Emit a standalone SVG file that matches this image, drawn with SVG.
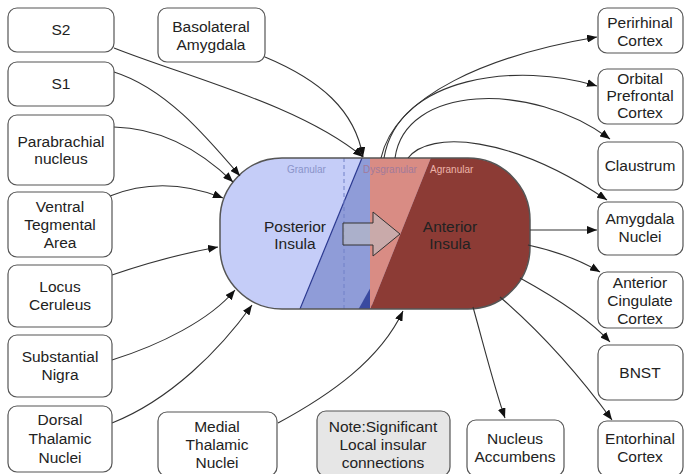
<svg xmlns="http://www.w3.org/2000/svg" width="685" height="474" viewBox="0 0 685 474">
<style>
.box{fill:#fff;stroke:#555;stroke-width:1.2}
.note{fill:#e6e6e6;stroke:#555;stroke-width:1.2}
.t{font-family:"Liberation Sans",Arial,sans-serif;font-size:15.5px;fill:#222;text-anchor:middle}
.zone{font-family:"Liberation Sans",Arial,sans-serif;font-size:10px;text-anchor:start}
.c{fill:none;stroke:#333;stroke-width:1.1;marker-end:url(#ah)}
</style>
<defs>
<marker id="ah" markerUnits="userSpaceOnUse" markerWidth="10" markerHeight="8" refX="10" refY="4" orient="auto">
<path d="M0,0 L10,4 L0,8 z" fill="#111"/>
</marker>
<clipPath id="ins"><rect x="220" y="158" width="310" height="151" rx="62" ry="62"/></clipPath>
</defs>
<rect width="685" height="474" fill="#fff"/>

<g id="insula">
<g clip-path="url(#ins)">
<rect x="215" y="150" width="330" height="170" fill="#c5cdf8"/>
<polygon points="362,158 372,158 372,310 300,310" fill="#8f9cd8"/>
<polygon points="372,285 372,310 358,310" fill="#3a4aa0"/>
<polygon points="370,150 434,150 370,310" fill="#d98c84"/>
<polygon points="434,150 545,150 545,320 370,320 370,310" fill="#8c3b35"/>
<line x1="362" y1="158" x2="300" y2="309" stroke="#2b3990" stroke-width="1.2"/>
<line x1="344" y1="158" x2="344" y2="309" stroke="#7080c8" stroke-width="1" stroke-dasharray="4,3"/>
</g>
<rect x="220" y="158" width="310" height="151" rx="62" ry="62" fill="none" stroke="#555" stroke-width="1.5"/>
<text class="zone" x="287" y="173" fill="#8a93c9">Granular</text>
<text class="zone" x="363" y="173" fill="#a27a9a">Dysgranular</text>
<text class="zone" x="430" y="173" fill="#ecb3aa">Agranular</text>
<polygon points="343,223 373,223 373,212 400,234 373,256 373,245 343,245" fill="rgba(190,190,195,0.6)" stroke="#333" stroke-width="1"/>
<text class="t" x="295" y="232">Posterior</text>
<text class="t" x="295" y="249">Insula</text>
<text class="t" x="450" y="232">Anterior</text>
<text class="t" x="450" y="249">Insula</text>
</g>

<g id="connectors">
<path class="c" d="M114,48 C190,78 300,105 363,157"/>
<path class="c" d="M265,57 C320,80 355,110 363,157"/>
<path class="c" d="M114,72 C165,88 205,135 240,176"/>
<path class="c" d="M114,127 C160,128 200,150 233,182"/>
<path class="c" d="M110,196 C150,180 190,185 223,198"/>
<path class="c" d="M112,275 C150,262 190,252 218,247"/>
<path class="c" d="M112,360 C160,345 210,320 235,290"/>
<path class="c" d="M112,423 C170,400 220,350 252,305"/>
<path class="c" d="M278,423 C330,395 380,360 403,311"/>
<path class="c" d="M381,158 C395,95 490,55 597,37"/>
<path class="c" d="M384,158 C398,75 520,62 597,86"/>
<path class="c" d="M395,158 C405,85 530,80 610,139"/>
<path class="c" d="M408,158 C430,130 510,135 607,200"/>
<path class="c" d="M530,230 L597,230"/>
<path class="c" d="M528,245 C560,252 580,260 600,272"/>
<path class="c" d="M520,278 C560,300 590,320 610,342"/>
<path class="c" d="M500,297 C550,340 590,390 612,420"/>
<path class="c" d="M473,307 C485,350 495,390 505,418"/>
</g>

<g id="s2"><rect class="box" x="8" y="8" width="106" height="44" rx="9"/><text class="t" x="61" y="35">S2</text></g>
<g id="s1"><rect class="box" x="8" y="62" width="106" height="44" rx="9"/><text class="t" x="61" y="89">S1</text></g>
<g id="parabrachial"><rect class="box" x="8" y="115" width="106" height="70" rx="9"/><text class="t" x="61" y="147">Parabrachial</text><text class="t" x="61" y="164">nucleus</text></g>
<g id="vta"><rect class="box" x="8" y="192" width="104" height="65" rx="9"/><text class="t" x="60" y="212">Ventral</text><text class="t" x="60" y="230">Tegmental</text><text class="t" x="60" y="248">Area</text></g>
<g id="locus"><rect class="box" x="8" y="265" width="104" height="62" rx="9"/><text class="t" x="60" y="292">Locus</text><text class="t" x="60" y="310">Ceruleus</text></g>
<g id="nigra"><rect class="box" x="8" y="335" width="104" height="62" rx="9"/><text class="t" x="60" y="362">Substantial</text><text class="t" x="60" y="380">Nigra</text></g>
<g id="dorsal"><rect class="box" x="8" y="406" width="104" height="66" rx="9"/><text class="t" x="60" y="425">Dorsal</text><text class="t" x="60" y="444">Thalamic</text><text class="t" x="60" y="463">Nuclei</text></g>
<g id="basolateral"><rect class="box" x="158" y="8" width="107" height="54" rx="9"/><text class="t" x="211" y="32">Basolateral</text><text class="t" x="211" y="50">Amygdala</text></g>
<g id="medial"><rect class="box" x="158" y="412" width="119" height="64" rx="9"/><text class="t" x="217" y="432">Medial</text><text class="t" x="217" y="450">Thalamic</text><text class="t" x="217" y="468">Nuclei</text></g>
<g id="note"><rect class="note" x="317" y="411" width="133" height="65" rx="9"/><text class="t" x="383" y="432">Note:Significant</text><text class="t" x="383" y="450">Local insular</text><text class="t" x="383" y="468">connections</text></g>
<g id="accumbens"><rect class="box" x="467" y="420" width="97" height="56" rx="9"/><text class="t" x="515" y="444">Nucleus</text><text class="t" x="515" y="462">Accumbens</text></g>
<g id="perirhinal"><rect class="box" x="598" y="8" width="85" height="45" rx="9"/><text class="t" x="640" y="28">Perirhinal</text><text class="t" x="640" y="46">Cortex</text></g>
<g id="orbital"><rect class="box" x="598" y="69" width="85" height="55" rx="9"/><text class="t" x="640" y="84">Orbital</text><text class="t" x="640" y="101">Prefrontal</text><text class="t" x="640" y="118">Cortex</text></g>
<g id="claustrum"><rect class="box" x="598" y="142" width="85" height="48" rx="9"/><text class="t" x="640" y="171">Claustrum</text></g>
<g id="amygdala"><rect class="box" x="598" y="202" width="85" height="53" rx="9"/><text class="t" x="640" y="224">Amygdala</text><text class="t" x="640" y="242">Nuclei</text></g>
<g id="cingulate"><rect class="box" x="598" y="272" width="85" height="56" rx="9"/><text class="t" x="640" y="288">Anterior</text><text class="t" x="640" y="306">Cingulate</text><text class="t" x="640" y="324">Cortex</text></g>
<g id="bnst"><rect class="box" x="598" y="345" width="85" height="55" rx="9"/><text class="t" x="640" y="378">BNST</text></g>
<g id="entorhinal"><rect class="box" x="598" y="421" width="85" height="55" rx="9"/><text class="t" x="640" y="444">Entorhinal</text><text class="t" x="640" y="462">Cortex</text></g>
</svg>
